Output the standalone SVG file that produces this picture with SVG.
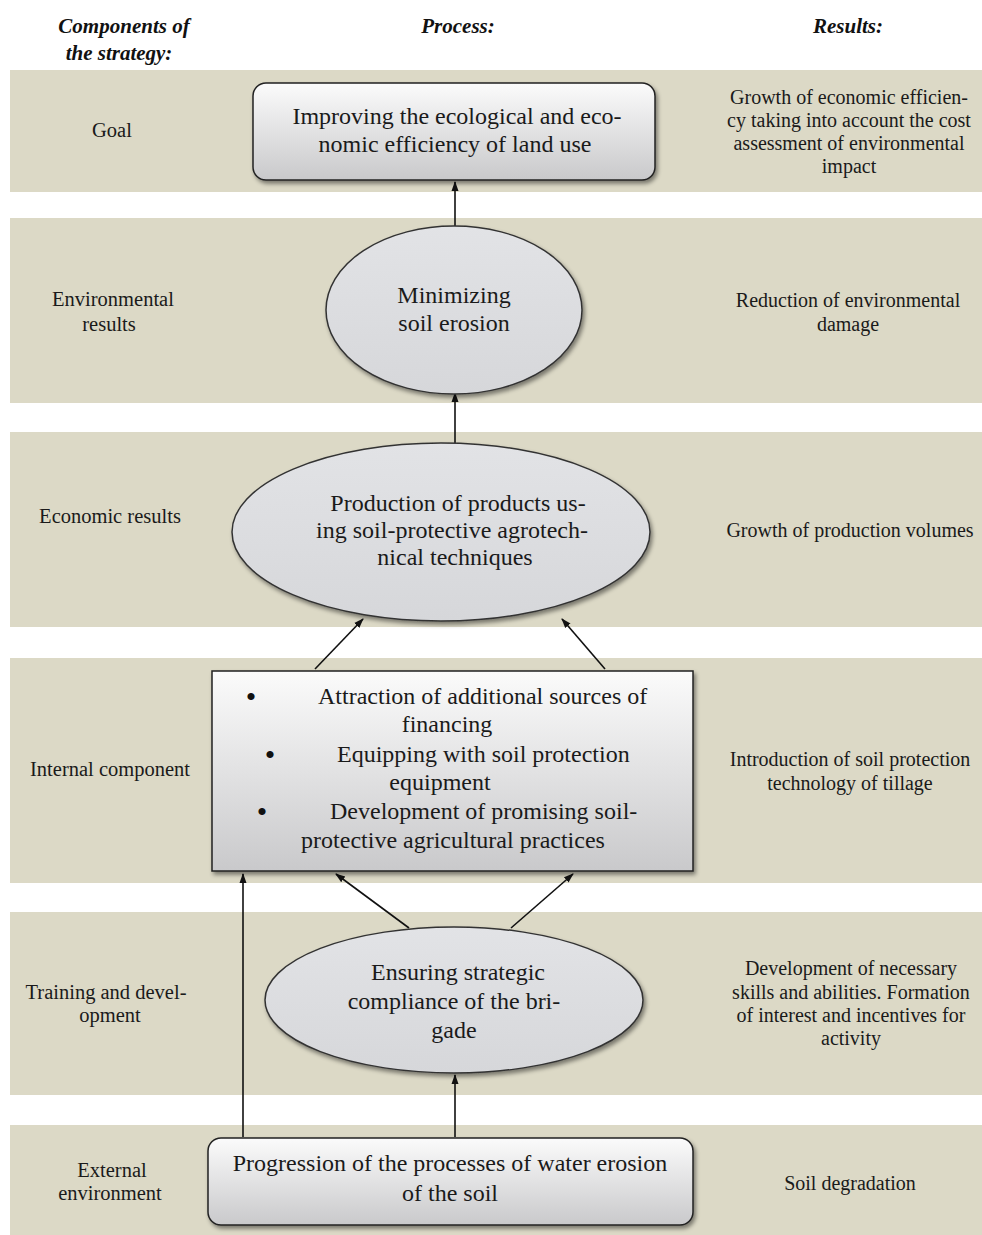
<svg xmlns="http://www.w3.org/2000/svg" width="982" height="1235" viewBox="0 0 982 1235">
<style>
  .band { fill: #dcd9c6; }
  .hdr { font-family: "Liberation Serif", "Times New Roman", serif; font-weight: bold; font-style: italic; font-size: 21px; fill: #111; text-anchor: middle; }
  .lbl { font-family: "Liberation Serif", "Times New Roman", serif; font-size: 20.5px; fill: #1a1a1a; text-anchor: middle; }
  .res { font-family: "Liberation Serif", "Times New Roman", serif; font-size: 20px; fill: #1a1a1a; text-anchor: middle; }
  .node { font-family: "Liberation Serif", "Times New Roman", serif; font-size: 24px; fill: #1a1a1a; text-anchor: middle; }
  .bl { font-family: "Liberation Serif", "Times New Roman", serif; font-size: 24px; fill: #1a1a1a; }
  .dot { font-family: "Liberation Serif", "Times New Roman", serif; font-size: 30px; fill: #111; text-anchor: middle; }
  .box { fill: url(#boxg); stroke: #222; stroke-width: 1.5; filter: url(#sh); }
  .ell { fill: url(#ellg); stroke: #333; stroke-width: 1.5; filter: url(#sh); }
  .conn { stroke: #111; stroke-width: 1.6; fill: none; marker-end: url(#ah); }
</style>
<defs>
  <linearGradient id="boxg" x1="0" y1="0" x2="0" y2="1">
    <stop offset="0" stop-color="#fbfbfb"/>
    <stop offset="1" stop-color="#c9c9cb"/>
  </linearGradient>
  <linearGradient id="ellg" x1="0" y1="0" x2="0" y2="1">
    <stop offset="0" stop-color="#e2e3e6"/>
    <stop offset="1" stop-color="#d6d7da"/>
  </linearGradient>
  <filter id="sh" x="-10%" y="-10%" width="125%" height="130%">
    <feDropShadow dx="2" dy="3" stdDeviation="2" flood-color="#000" flood-opacity="0.45"/>
  </filter>
  <marker id="ah" markerWidth="10" markerHeight="10" refX="9" refY="5" orient="auto" markerUnits="userSpaceOnUse">
    <path d="M0,1.5 L10,5 L0,8.5 Z" fill="#111"/>
  </marker>
</defs>
<rect width="982" height="1235" fill="#ffffff"/>

<g id="headers">
  <text class="hdr" x="124" y="33">Components of</text>
  <text class="hdr" x="119" y="60">the strategy:</text>
  <text class="hdr" x="458" y="33">Process:</text>
  <text class="hdr" x="848" y="33">Results:</text>
</g>

<g id="bands">
  <rect class="band" x="10" y="70" width="972" height="122"/>
  <rect class="band" x="10" y="218" width="972" height="185"/>
  <rect class="band" x="10" y="432" width="972" height="195"/>
  <rect class="band" x="10" y="658" width="972" height="225"/>
  <rect class="band" x="10" y="912" width="972" height="183"/>
  <rect class="band" x="10" y="1125" width="972" height="110"/>
</g>

<g id="labels">
  <text class="lbl" x="112" y="137">Goal</text>
  <text class="lbl" x="113" y="306">Environmental</text>
  <text class="lbl" x="109" y="331">results</text>
  <text class="lbl" x="110" y="523">Economic results</text>
  <text class="lbl" x="110" y="776">Internal component</text>
  <text class="lbl" x="106" y="999">Training and devel-</text>
  <text class="lbl" x="110" y="1022">opment</text>
  <text class="lbl" x="112" y="1177">External</text>
  <text class="lbl" x="110" y="1200">environment</text>
</g>

<g id="results">
  <text class="res" x="849" y="104">Growth of economic efficien-</text>
  <text class="res" x="849" y="127">cy taking into account the cost</text>
  <text class="res" x="849" y="150">assessment of environmental</text>
  <text class="res" x="849" y="173">impact</text>
  <text class="res" x="848" y="307">Reduction of environmental</text>
  <text class="res" x="848" y="331">damage</text>
  <text class="res" x="850" y="537">Growth of production volumes</text>
  <text class="res" x="850" y="766">Introduction of soil protection</text>
  <text class="res" x="850" y="790">technology of tillage</text>
  <text class="res" x="851" y="975">Development of necessary</text>
  <text class="res" x="851" y="999">skills and abilities. Formation</text>
  <text class="res" x="851" y="1022">of interest and incentives for</text>
  <text class="res" x="851" y="1045">activity</text>
  <text class="res" x="850" y="1190">Soil degradation</text>
</g>

<g id="connectors">
  <line class="conn" x1="455" y1="226" x2="455" y2="182"/>
  <line class="conn" x1="455" y1="443" x2="455" y2="393"/>
  <line class="conn" x1="315" y1="669" x2="363" y2="619"/>
  <line class="conn" x1="605" y1="669" x2="562" y2="619"/>
  <line class="conn" x1="409" y1="928" x2="336" y2="874"/>
  <line class="conn" x1="511" y1="928" x2="573" y2="874"/>
  <line class="conn" x1="243" y1="1137" x2="243" y2="874"/>
  <line class="conn" x1="455" y1="1137" x2="455" y2="1075"/>
</g>

<g id="node-goal">
  <rect class="box" x="253" y="83" width="402" height="97" rx="13"/>
  <text class="node" x="457" y="124">Improving the ecological and eco-</text>
  <text class="node" x="455" y="152">nomic efficiency of land use</text>
</g>

<g id="node-minimizing">
  <ellipse class="ell" cx="454" cy="310" rx="128" ry="84"/>
  <text class="node" x="454" y="303">Minimizing</text>
  <text class="node" x="454" y="331">soil erosion</text>
</g>

<g id="node-production">
  <ellipse class="ell" cx="441" cy="532" rx="209" ry="89"/>
  <text class="node" x="458" y="511">Production of products us-</text>
  <text class="node" x="452" y="538">ing soil-protective agrotech-</text>
  <text class="node" x="455" y="565">nical techniques</text>
</g>

<g id="node-internal">
  <rect class="box" x="212" y="671" width="481" height="200"/>
  <text class="dot" x="251" y="707">•</text>
  <text class="bl" x="318" y="704">Attraction of additional sources of</text>
  <text class="node" x="447" y="732">financing</text>
  <text class="dot" x="270" y="765">•</text>
  <text class="bl" x="337" y="762">Equipping with soil protection</text>
  <text class="node" x="440" y="790">equipment</text>
  <text class="dot" x="262" y="822">•</text>
  <text class="bl" x="330" y="819">Development of promising soil-</text>
  <text class="node" x="453" y="848">protective agricultural practices</text>
</g>

<g id="node-ensuring">
  <ellipse class="ell" cx="454" cy="1000" rx="189" ry="73"/>
  <text class="node" x="458" y="980">Ensuring strategic</text>
  <text class="node" x="454" y="1009">compliance of the bri-</text>
  <text class="node" x="454" y="1038">gade</text>
</g>

<g id="node-progression">
  <rect class="box" x="208" y="1138" width="485" height="87" rx="13"/>
  <text class="node" x="450" y="1171">Progression of the processes of water erosion</text>
  <text class="node" x="450" y="1201">of the soil</text>
</g>
</svg>
